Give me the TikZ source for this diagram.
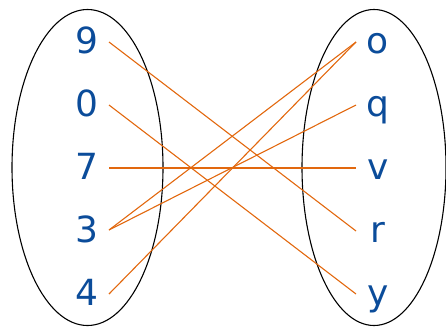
\documentclass[tikz,border=0pt]{standalone}
\usepackage{fontspec}
\setmainfont{DejaVu Sans}
\definecolor{lbl}{HTML}{0B4C9A}
\definecolor{lnk}{HTML}{E2680E}
\begin{document}
\begin{tikzpicture}[x=1pt,y=-1pt,
  lab/.style={text=lbl,font=\fontsize{36}{36}\selectfont,inner sep=0pt,anchor=base},
  pt/.style={inner sep=0pt,minimum size=0pt},
  link/.style={draw=lnk,line width=1.1pt},
  setring/.style={draw=black,line width=1.1pt}]
\useasboundingbox (0,0) rectangle (446,327);
\draw[setring] (87.5,167.5) ellipse [x radius=75.5, y radius=158];
\draw[setring] (374,167.5) ellipse [x radius=72, y radius=158];
% left labels
\node[lab] (l9) at (87,53) {9};
\node[lab] (l0) at (87,116) {0};
\node[lab] (l7) at (87,179) {7};
\node[lab] (l3) at (87,242) {3};
\node[lab] (l4) at (87,305) {4};
% right labels
\node[lab] (ro) at (378,53) {o};
\node[lab] (rq) at (378,116) {q};
\node[lab] (rv) at (378,179) {v};
\node[lab] (rr) at (378,242) {r};
\node[lab] (ry) at (378,305) {y};
% connector ends
\coordinate (a9) at (109,42);
\coordinate (a0) at (109,105);
\coordinate (a7) at (109,168);
\coordinate (a3) at (109,230);
\coordinate (a4) at (109,294);
\coordinate (bo) at (356,42);
\coordinate (bq) at (356,105);
\coordinate (bv) at (356,168);
\coordinate (br) at (356,231);
\coordinate (by) at (356,294);
\draw[link] (a9) -- (br);
\draw[link] (a0) -- (by);
\draw[link] (a7) -- (bv);
\draw[link] (a3) -- (bo);
\draw[link] (a3) -- (bq);
\draw[link] (a4) -- (bo);
\end{tikzpicture}
\end{document}
